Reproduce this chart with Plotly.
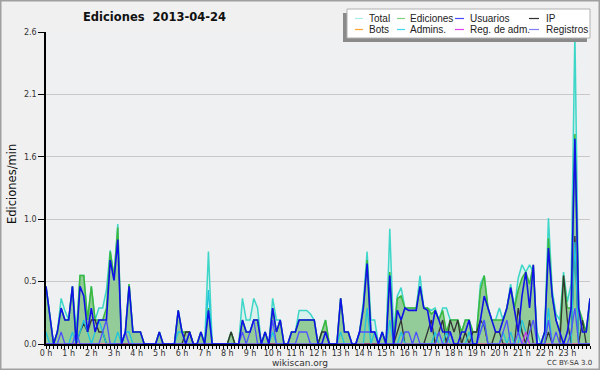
import plotly.graph_objects as go

# ---- data: 10-minute bins (edits per minute), hour blocks of 6 ----
total = [
    .48, .24, 0, .1, .38, .28,   .2, .48, .1, .57, .57, .2,
    .48, .2, .3, .3, .45, .78,   .56, 1.0, 0, .1, .5, .1,
    .1, .1, 0, 0, 0, 0,          .1, 0, 0, 0, 0, .28,
    .1, .1, .1, 0, 0, .1,        0, .77, 0, 0, 0, 0,
    0, .1, 0, 0, .38, .2,        .2, .38, .3, 0, .1, 0,
    .38, .2, .2, 0, 0, .1,       .1, .28, .28, .28, .25, .2,
    0, .1, .2, 0, 0, 0,          .38, .1, .1, 0, 0, .1,
    .35, .77, .2, .2, 0, .1,     0, .96, .1, .4, .47, .3,
    .3, .3, .3, .57, .3, .3,     .28, .3, .2, .3, .3, .2,
    .2, .2, .1, .2, .2, .1,      .1, .5, .57, .3, .2, .2,
    .3, .2, .3, .5, .3, .55,     .66, .6, .66, .6, .1, 0,
    .1, 1.05, .45, .25, .2, .6,  .35, .5, 2.6, .3, .2, .1,
    .38]
ediciones = [
    .48, .24, 0, .1, .3, .2,     .2, .48, 0, .57, .57, .2,
    .48, .2, .2, .2, .3, .77,    .56, .97, 0, .1, .5, .1,
    .1, .1, 0, 0, 0, 0,          .1, 0, 0, 0, 0, .28,
    .1, .1, .1, 0, 0, .1,        0, .3, 0, 0, 0, 0,
    0, .1, 0, 0, .2, .1,         .1, .2, .2, 0, .1, 0,
    .3, .1, .2, 0, 0, .1,        .1, .2, .2, .2, .2, .2,
    0, .1, .2, 0, 0, 0,          .38, .1, .1, 0, 0, .1,
    .3, .7, .1, .1, 0, .1,       0, .6, 0, .38, .4, .3,
    .3, .3, .3, .48, .3, .3,     .25, .28, .2, .28, .1, .2,
    .2, .2, .1, .2, .2, .1,      .1, .45, .57, .3, .2, .2,
    .2, .2, .3, .47, .3, .45,    .55, .6, .5, .66, 0, 0,
    .1, .88, .4, .2, .1, .57,    .3, .3, 1.75, .3, .2, .1,
    .38]
usuarios = [
    .48, .24, 0, .1, .3, .2,     .2, .48, 0, .48, .4, .1,
    .3, .1, .2, .2, .2, .7,      .53, .87, 0, .1, .48, .1,
    .1, .1, 0, 0, 0, 0,          .1, 0, 0, 0, 0, .28,
    .1, 0, .1, 0, 0, .1,         0, .28, 0, 0, 0, 0,
    0, 0, 0, 0, .2, .1,          .1, .2, .2, 0, .1, 0,
    .3, .1, .2, 0, 0, .1,        .1, .2, .2, .2, .2, .2,
    0, 0, .1, 0, 0, 0,           .38, .1, .1, 0, 0, .1,
    .3, .67, .1, .1, 0, .1,      0, .57, 0, .28, .2, .3,
    .28, .28, .28, .48, .3, .28, .1, .28, .2, .1, .1, .1,
    0, 0, .1, .1, .2, 0,         0, .2, .4, .3, .2, .1,
    .1, .2, .3, .47, .3, .1,     .4, .6, .3, .66, 0, 0,
    .1, .8, .4, .2, .1, 0,       .1, .3, 1.71, .3, .1, .1,
    .38]
ip = [
    0, 0, 0, 0, 0, 0,            0, 0, 0, .1, .17, .1,
    .2, .2, .1, .1, 0, 0,        0, 0, 0, 0, 0, 0,
    0, 0, 0, 0, 0, 0,            0, 0, 0, 0, 0, 0,
    0, .1, .1, 0, 0, 0,          0, 0, 0, 0, 0, 0,
    0, .1, 0, 0, 0, 0,           0, 0, 0, 0, 0, 0,
    0, 0, 0, 0, 0, 0,            0, 0, 0, 0, 0, 0,
    0, .1, .1, 0, 0, 0,          0, 0, 0, 0, 0, 0,
    0, 0, 0, 0, 0, 0,            0, 0, 0, .1, .2, 0,
    0, 0, 0, 0, 0, .1,           .2, 0, .1, .2, 0, .2,
    .1, .2, 0, .1, 0, .1,        .1, .2, .15, 0, 0, .1,
    .1, 0, 0, 0, 0, .3,          .1, 0, .2, 0, 0, 0,
    0, .1, 0, 0, 0, .57,         .2, 0, .9, 0, .2, 0,
    0]
admins = [
    .1, 0, 0, 0, 0, 0,           0, .1, 0, .1, .2, .1,
    0, .1, .2, .1, 0, 0,         0, .1, 0, .1, .1, 0,
    0, 0, 0, 0, 0, 0,            0, 0, 0, 0, 0, .1,
    .1, 0, 0, 0, 0, 0,           0, .45, 0, 0, 0, 0,
    0, 0, 0, 0, 0, 0,            0, 0, 0, 0, 0, 0,
    .1, 0, 0, 0, 0, 0,           0, 0, 0, 0, 0, 0,
    0, 0, 0, 0, 0, 0,            .1, 0, 0, 0, 0, 0,
    0, .3, 0, .1, 0, 0,          0, .2, 0, 0, .1, 0,
    0, 0, 0, 0, 0, 0,            0, .1, 0, 0, .1, 0,
    0, 0, 0, 0, .1, 0,           0, .1, .2, 0, 0, 0,
    0, .1, 0, .1, 0, 0,          .2, .1, 0, 0, 0, 0,
    0, .3, 0, 0, 0, 0,           0, 0, .85, 0, 0, 0,
    0]
registros = [
    0, 0, 0, 0, .1, 0,           0, 0, .1, 0, 0, 0,
    0, 0, 0, .1, .2, 0,          0, 0, 0, .1, 0, 0,
    0, 0, 0, 0, 0, 0,            0, 0, 0, 0, 0, 0,
    0, 0, 0, 0, 0, 0,            0, 0, 0, 0, 0, 0,
    0, 0, 0, 0, .1, 0,           .1, .2, 0, 0, 0, 0,
    .2, 0, 0, 0, 0, 0,           0, .1, .1, .1, 0, 0,
    0, 0, 0, 0, 0, 0,            0, 0, 0, 0, 0, .1,
    .1, .1, .1, .1, 0, 0,        0, 0, 0, 0, 0, .1,
    .1, 0, .1, 0, 0, 0,          0, 0, .1, 0, 0, .1,
    0, 0, 0, 0, 0, 0,            0, .1, .2, 0, 0, 0,
    0, .1, .2, 0, 0, .1,         0, 0, .1, .2, 0, 0,
    0, .2, 0, .1, 0, 0,          0, .1, .3, 0, 0, 0,
    0]
reg_adm = [0] * 127 + [.1] + [0] * 17
bots = [0] * 145

hours = [i / 6 for i in range(145)]
hour_labels = [f"{h} h" for h in range(24)]
y_tickvals = [0, 0.52, 1.04, 1.56, 2.08, 2.6]
y_ticktext = ["0.0", "0.5", "1.0", "1.6", "2.1", "2.6"]

legend_items = [
    ("Total", "#a8ece6"), ("Ediciones", "#80d080"), ("Usuarios", "#4848ff"), ("IP", "#303030"),
    ("Bots", "#ffa030"), ("Admins.", "#40d8e8"), ("Reg. de adm.", "#e040f0"), ("Registros", "#8080ff"),
]

# ---- figure ----
W, H = 600, 370
ML, MR, MT, MB = 46, 10, 32, 26
PW, PH = W - ML - MR, H - MT - MB

def px(x):
    return (x - ML) / PW

def py(y):
    return (H - MB - y) / PH

fig = go.Figure()
fig.add_trace(go.Scatter(x=hours, y=total, mode="lines", fill="tozeroy",
                         fillcolor="rgba(215,240,236,0.9)", line=dict(color="#3ed6c8", width=1.5)))
fig.add_trace(go.Scatter(x=hours, y=ediciones, mode="lines", fill="tozeroy",
                         fillcolor="rgba(120,190,120,0.72)", line=dict(color="#3cb83c", width=1.5)))
fig.add_trace(go.Scatter(x=hours, y=bots, mode="lines", line=dict(color="#ffa030", width=1.2)))
fig.add_trace(go.Scatter(x=hours, y=ip, mode="lines", line=dict(color="#333333", width=1.3)))
fig.add_trace(go.Scatter(x=hours, y=admins, mode="lines", line=dict(color="#20c4dc", width=1.3)))
fig.add_trace(go.Scatter(x=hours, y=reg_adm, mode="lines", line=dict(color="#d030e8", width=1.2)))
fig.add_trace(go.Scatter(x=hours, y=registros, mode="lines", line=dict(color="#5050ff", width=1.3)))
fig.add_trace(go.Scatter(x=hours, y=usuarios, mode="lines", line=dict(color="#1010e8", width=1.6)))

shapes = []
annotations = []
# outer border
shapes.append(dict(type="rect", xref="paper", yref="paper", x0=px(0.75), x1=px(W - 0.75),
                   y0=py(H - 0.75), y1=py(0.75), line=dict(color="#a0a0a0", width=1.5), layer="below"))
# legend box with shadow
shapes.append(dict(type="rect", xref="paper", yref="paper", x0=px(343), x1=px(587), y0=py(42), y1=py(13),
                   line=dict(width=0), fillcolor="#8a8a8a"))
shapes.append(dict(type="rect", xref="paper", yref="paper", x0=px(347), x1=px(590), y0=py(38), y1=py(9),
                   line=dict(color="#b0b0b0", width=1), fillcolor="#ffffff"))
line_x = [(355, 363), (397, 405), (455, 464), (529, 539)]
text_x = [367, 408, 468, 544]
row_y = [18.5, 29.5]
for i, (name, col) in enumerate(legend_items):
    lx0, lx1 = line_x[i % 4]
    ry = row_y[i // 4]
    shapes.append(dict(type="line", xref="paper", yref="paper", x0=px(lx0), x1=px(lx1),
                       y0=py(ry), y1=py(ry), line=dict(color=col, width=1.2)))
    annotations.append(dict(text=name, xref="paper", yref="paper", x=px(text_x[i % 4]), y=py(ry),
                            xanchor="left", yanchor="middle", showarrow=False,
                            font=dict(size=10, color="#222222", family="Liberation Sans")))

annotations.append(dict(text="<b>Ediciones\u00a0 2013-04-24</b>", xref="paper", yref="paper",
                        x=px(154), y=py(17.5), xanchor="center", yanchor="middle", showarrow=False,
                        font=dict(size=11.5, color="#111111", family="DejaVu Sans")))
annotations.append(dict(text="Ediciones/min", xref="paper", yref="paper", x=px(12), y=py(184),
                        xanchor="center", yanchor="middle", textangle=-90, showarrow=False,
                        font=dict(size=11.5, color="#111111", family="DejaVu Sans")))
annotations.append(dict(text="wikiscan.org", xref="paper", yref="paper", x=px(300), y=py(363),
                        xanchor="center", yanchor="middle", showarrow=False,
                        font=dict(size=9, color="#333333", family="DejaVu Sans")))
annotations.append(dict(text="CC BY-SA 3.0", xref="paper", yref="paper", x=px(569), y=py(363),
                        xanchor="center", yanchor="middle", showarrow=False,
                        font=dict(size=7, color="#333333", family="DejaVu Sans")))

fig.update_layout(
    width=W, height=H, margin=dict(l=ML, r=MR, t=MT, b=MB, autoexpand=False),
    paper_bgcolor="#f0f0f0", plot_bgcolor="#eef0f2",
    showlegend=False, shapes=shapes, annotations=annotations,
    font=dict(family="DejaVu Sans", color="#333333"),
)
fig.update_xaxes(range=[0, 24], tickmode="array", tickvals=list(range(24)), ticktext=hour_labels,
                 ticks="outside", ticklen=3, tickcolor="black", tickwidth=1,
                 showline=True, linecolor="black", linewidth=1.5, showgrid=False, zeroline=False,
                 tickfont=dict(size=8, color="#333333"), automargin=False, ticklabelstandoff=-2,
                 minor=dict(tickmode="linear", tick0=0, dtick=1 / 6, ticks="outside", ticklen=3,
                            tickcolor="black", tickwidth=1, showgrid=False))
fig.update_yaxes(range=[0, 2.6], tickmode="array", tickvals=y_tickvals, ticktext=y_ticktext,
                 ticks="outside", ticklen=6, tickcolor="black", tickwidth=1,
                 showline=True, linecolor="black", linewidth=1.5, automargin=False,
                 showgrid=True, gridcolor="#c8c8c8", gridwidth=1, zeroline=False,
                 tickfont=dict(size=8, color="#333333"))

fig.write_html("out.html", config={"displayModeBar": False},
               post_script="document.body.style.margin='0';document.body.style.overflow='hidden';")
